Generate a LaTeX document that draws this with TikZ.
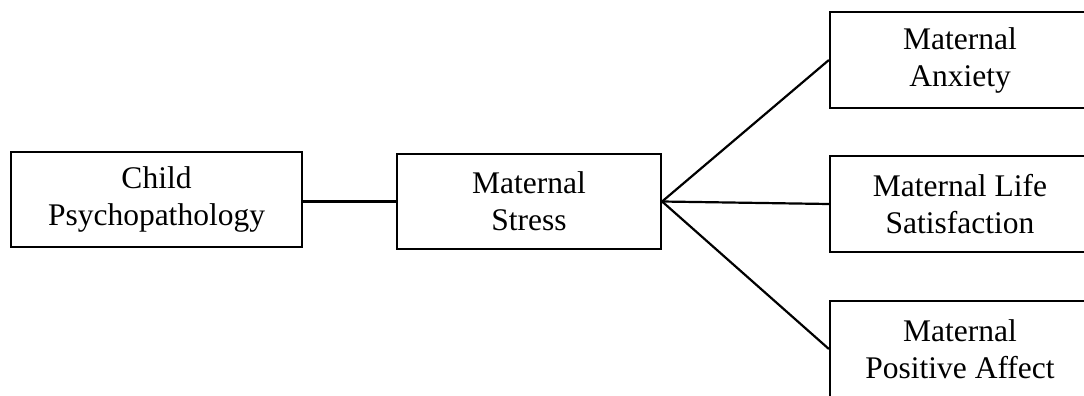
\documentclass[tikz,border=0pt]{standalone}
\usepackage{fontspec}
\setmainfont{Liberation Serif}
\begin{document}
\begin{tikzpicture}[x=1pt,y=-1pt,
  box/.style={draw=black, line width=2.2pt, align=center, inner sep=0pt,
    font=\fontsize{31.5}{37}\selectfont, text=black},
  link/.style={draw=black, line width=2.2pt}]
\useasboundingbox (0,0) rectangle (1084,396);
\clip (0,0) rectangle (1084,396);
\node[box, minimum width=291pt, minimum height=95pt] (child) at (156.5,199.5) {Child\\Psychopathology};
\node[box, minimum width=264pt, minimum height=95pt] (stress) at (529,201.5) {Maternal\\Stress};
\node[box, minimum width=260pt, minimum height=96pt] (anx) at (960,60) {Maternal\\Anxiety};
\node[box, minimum width=260pt, minimum height=96pt] (life) at (960,204) {Maternal Life\\Satisfaction};
\node[box, minimum width=260pt, minimum height=96pt] (pos) at (960,349) {Maternal\\Positive Affect};
\draw[link] (stress.west -| child.east) -- (stress.west);
\draw[link] (stress.east) -- (anx.west);
\draw[link] (stress.east) -- (life.west);
\draw[link] (stress.east) -- (pos.west);
\end{tikzpicture}
\end{document}
